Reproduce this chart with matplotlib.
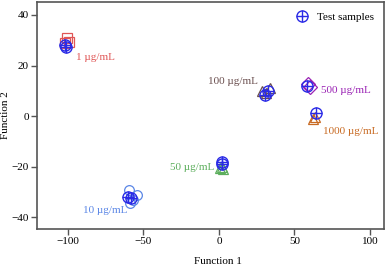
import numpy as np
import matplotlib
matplotlib.use("Agg")
import matplotlib.pyplot as plt
from matplotlib.lines import Line2D

plt.rcParams['font.family'] = ['Liberation Serif', 'DejaVu Serif']

# group centroid data (Function 1, Function 2)
labels = ["1 µg/mL", "10 µg/mL", "50 µg/mL", "100 µg/mL", "500 µg/mL", "1000 µg/mL"]
g1_x = [-100.7, -99.3, -102.0]
g1_y = [30.8, 29.2, 28.9]
g10_x = [-59.8, -54.5, -59.0, -57.0]
g10_y = [-29.2, -31.2, -34.4, -33.0]
g50_x = [1.0, 3.0, 2.0]
g50_y = [-20.5, -20.8, -20.2]
g100_x = [28.5, 34.0, 31.0]
g100_y = [10.0, 11.0, 9.0]
g500_x = [59.0, 60.0]
g500_y = [12.8, 11.4]
g1000_x = [62.0, 63.5]
g1000_y = [-1.0, -0.3]

# test samples
test_x = [-102.0, -101.0, -60.0, -58.5, 2.0, 2.2, 30.5, 32.7, 58.3, 64.2]
test_y = [28.0, 27.2, -31.9, -32.2, -18.0, -18.8, 8.3, 10.0, 11.9, 1.2]

# label positions
lab_x = [-94.7, -90.3, -3.0, 25.5, 67.3, 68.7]
lab_y = [23.3, -37.2, -20.3, 13.8, 10.0, -6.2]
lab_ha = ["left", "left", "right", "right", "left", "left"]

colors = ["#e05555", "#5a86e6", "#5cae5c", "#6a4e4e", "#9a22b4", "#c86a22"]
markers = ["s", "o", "^", "^", "D", "^"]

groups = [(g1_x, g1_y), (g10_x, g10_y), (g50_x, g50_y),
          (g100_x, g100_y), (g500_x, g500_y), (g1000_x, g1000_y)]

fig = plt.figure(figsize=(3.87, 2.67), dpi=100)
ax = fig.add_axes([0.0956, 0.1423, 0.8974, 0.8502])

for (gx, gy), c, m in zip(groups, colors, markers):
    ax.plot(gx, gy, linestyle="none", marker=m, markersize=7,
            markerfacecolor="none", markeredgecolor=c, markeredgewidth=0.9)

ax.plot(test_x, test_y, linestyle="none", marker="o", markersize=8,
        markerfacecolor="none", markeredgecolor="#2a2ae6", markeredgewidth=1.0)
ax.plot(test_x, test_y, linestyle="none", marker="+", markersize=8,
        markeredgecolor="#2a2ae6", markeredgewidth=1.0)

for lx, ly, t, c, ha in zip(lab_x, lab_y, labels, colors, lab_ha):
    ax.text(lx, ly, t, color=c, fontsize=8, ha=ha, va="center")

# legend handle: circle with plus
h1 = Line2D([], [], linestyle="none", marker="o", markersize=8,
            markerfacecolor="none", markeredgecolor="#2a2ae6", markeredgewidth=1.0)
h2 = Line2D([], [], linestyle="none", marker="+", markersize=8,
            markeredgecolor="#2a2ae6", markeredgewidth=1.0)
ax.legend([(h1, h2)], ["Test samples"], loc="upper right", frameon=False,
          fontsize=8, handletextpad=0.8, borderaxespad=0.5, handlelength=1.2)

ax.set_xlim(-120.5, 109.5)
ax.set_ylim(-44.6, 45.1)
ax.set_xticks([-100, -50, 0, 50, 100])
ax.set_yticks([-40, -20, 0, 20, 40])
ax.tick_params(direction="out", length=4, width=1, colors="#555555",
               labelcolor="black", labelsize=8, pad=2)
for s in ax.spines.values():
    s.set_color("#555555")
    s.set_linewidth(1.2)

ax.set_xlabel("Function 1", fontsize=8)
ax.set_ylabel("Function 2", fontsize=8)
ax.xaxis.set_label_coords(0.52, -0.125)
ax.yaxis.set_label_coords(-0.078, 0.5)

fig.savefig("out.png", dpi=100)
